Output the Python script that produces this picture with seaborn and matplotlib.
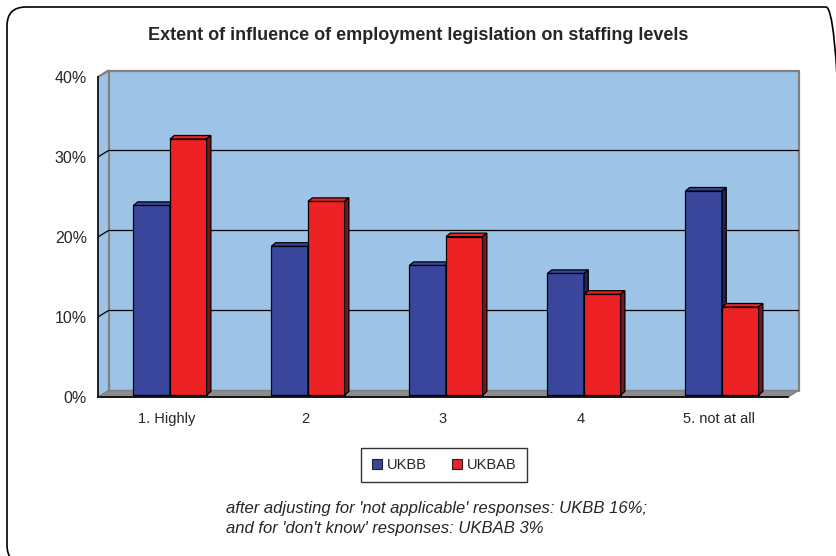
import numpy as np
import pandas as pd
import matplotlib
matplotlib.use("Agg")
import matplotlib.pyplot as plt
from matplotlib.patches import Polygon, FancyBboxPatch, Patch
from matplotlib.transforms import IdentityTransform
import seaborn as sns

# data (percent)
categories = ["1. Highly", "2", "3", "4", "5. not at all"]
series = ["UKBB", "UKBAB"]
ukbb = [23.7, 18.6, 16.2, 15.2, 25.5]
ukbab = [32.0, 24.2, 19.8, 12.6, 11.0]
y_ticks = [0, 10, 20, 30, 40]
title = "Extent of influence of employment legislation on staffing levels"
note_lines = ["after adjusting for 'not applicable' responses: UKBB 16%;",
              "and for 'don't know' responses: UKBAB 3%"]

front_cols = ["#3A469C", "#EE2224"]
side_cols = ["#1E2458", "#7E1416"]
wall_col = "#9DC3E6"
floor_col = "#8C8C8C"
edge_gray = "#808080"

df = pd.DataFrame({
    "category": categories * 2,
    "value": ukbb + ukbab,
    "series": [series[0]] * len(categories) + [series[1]] * len(categories),
})

sns.set_style("white")
plt.rcParams["font.family"] = ["Liberation Sans", "DejaVu Sans"]

W, H = 836, 556
fig = plt.figure(figsize=(W / 100, H / 100), dpi=100)

# outer rounded border, in display pixels (origin bottom-left); right and bottom run off the image
fig.add_artist(FancyBboxPatch((7, H - 564), 838, 557, boxstyle="round,pad=0,rounding_size=19",
                              transform=IdentityTransform(), facecolor="none",
                              edgecolor="black", lw=1.2))

ax = fig.add_axes([98 / W, 1 - 397 / H, 690 / W, 320 / H])
ax.set_facecolor("none")

# 3-D depth of the wall (data units) and of the bars
DX, DY = 10.5 / 138, 6.5 / 8
FX, FY = 3.0 / 138, 2.0 / 8
BX, BY = 4.3 / 138, 3.5 / 8

sns.barplot(data=df, x="category", y="value", hue="series", order=categories,
            hue_order=series, palette=front_cols, width=0.53, saturation=1,
            edgecolor="black", linewidth=0.9, errorbar=None, legend=False, ax=ax)

ax.set_xlim(-0.5, 4.5)
ax.set_ylim(0, 40)
x0, x1 = -0.5, len(categories) - 0.5
top = y_ticks[-1]

# back wall, left wall and floor
ax.add_patch(Polygon([(x0 + DX, DY), (x1 + DX, DY), (x1 + DX, top + DY), (x0 + DX, top + DY)],
                     closed=True, facecolor=wall_col, edgecolor="none", zorder=0, clip_on=False))
ax.add_patch(Polygon([(x0, 0), (x0 + DX, DY), (x0 + DX, top + DY), (x0, top)],
                     closed=True, facecolor=wall_col, edgecolor="none", zorder=0, clip_on=False))
ax.add_patch(Polygon([(x0, 0), (x1, 0), (x1 + DX, DY), (x0 + DX, DY)],
                     closed=True, facecolor=floor_col, edgecolor=edge_gray, lw=1, zorder=1, clip_on=False))
# wall edges
ax.plot([x0 + DX, x0 + DX, x1 + DX, x1 + DX], [DY, top + DY, top + DY, DY],
        color=edge_gray, lw=1.6, zorder=1, clip_on=False)
ax.plot([x0, x0 + DX], [top, top + DY], color=edge_gray, lw=1.6, zorder=1, clip_on=False)
# gridlines on walls
for v in y_ticks[1:-1]:
    ax.plot([x0, x0 + DX, x1 + DX], [v, v + DY, v + DY], color="black", lw=0.9,
            zorder=1, clip_on=False)

# give the bars their 3-D look
for i, cont in enumerate(ax.containers):
    for p in cont.patches:
        bx, w, h = p.get_x(), p.get_width(), p.get_height()
        p.set_x(bx + FX)
        p.set_y(FY)
        p.set_zorder(3 + i)
        p.set_clip_on(False)
        lx, rx, ty = bx + FX, bx + FX + w, h + FY
        ax.add_patch(Polygon([(lx, ty), (rx, ty), (rx + BX, ty + BY), (lx + BX, ty + BY)],
                             closed=True, facecolor=front_cols[i], edgecolor="black",
                             lw=0.9, zorder=3 + i, clip_on=False))
        ax.add_patch(Polygon([(rx, FY), (rx + BX, FY + BY), (rx + BX, ty + BY), (rx, ty)],
                             closed=True, facecolor=side_cols[i], edgecolor="black",
                             lw=0.9, zorder=3 + i, clip_on=False))

# axes styling
for s in ["top", "right"]:
    ax.spines[s].set_visible(False)
for s in ["left", "bottom"]:
    ax.spines[s].set_color("black")
    ax.spines[s].set_linewidth(1.2)
    ax.spines[s].set_zorder(6)

ax.set_yticks(y_ticks)
ax.set_yticklabels([f"{v}%" for v in y_ticks], fontsize=11.5)
ax.set_xticks(np.arange(len(categories) + 1) - 0.5)
ax.set_xticklabels([])
ax.set_xticks(np.arange(len(categories)), minor=True)
ax.set_xticklabels(categories, minor=True, fontsize=10.5)
ax.tick_params(axis="y", which="major", direction="out", length=5, width=1, color="black", pad=3)
ax.tick_params(axis="x", which="major", direction="out", length=6, width=1, color="#606060")
ax.tick_params(axis="x", which="minor", length=0, pad=11)
ax.set_xlabel("")
ax.set_ylabel("")
ax.grid(False)

# legend
handles = [Patch(facecolor=c, edgecolor="#202020", lw=0.8) for c in front_cols]
fig.legend(handles, series, loc="center", bbox_to_anchor=(444 / W, 1 - 465 / H),
           ncol=2, fontsize=10.5, frameon=True, fancybox=False, edgecolor="black",
           handlelength=0.7, handleheight=0.7, handletextpad=0.35, columnspacing=1.7,
           borderpad=0.7).get_frame().set_linewidth(1)

fig.text(418 / W, 1 - 35 / H, title, ha="center", va="center", fontsize=13, fontweight="bold")
for k, line in enumerate(note_lines):
    fig.text(226 / W, 1 - (508 + 20 * k) / H, line, ha="left", va="center",
             fontsize=12, style="italic")

fig.savefig("out.png", dpi=100)
